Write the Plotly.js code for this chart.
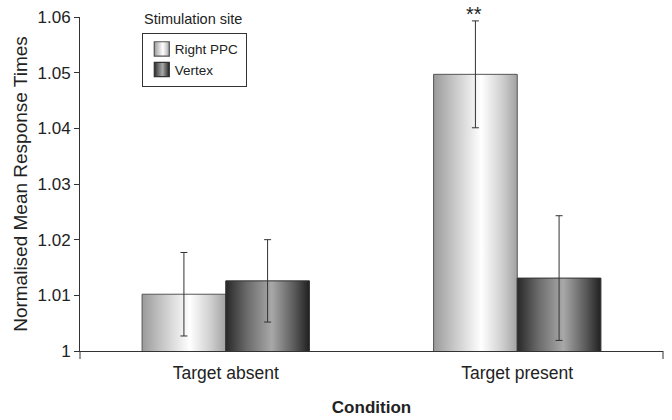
<!DOCTYPE html>
<html>
<head>
<meta charset="utf-8">
<script src="https://cdn.plot.ly/plotly-3.0.1.min.js"></script>
<style>html,body{margin:0;padding:0;background:#fff;}#chart{width:672px;height:420px;}</style>
</head>
<body>
<div id="chart"></div>
<script>
// ---- data ----
var categories = ["Target absent", "Target present"];
var seriesNames = ["Right PPC", "Vertex"];
var rightPPC = [1.0102, 1.0497];
var rightPPCErr = [0.0075, 0.0096];
var vertex = [1.0126, 1.0131];
var vertexErr = [0.0074, 0.0112];
var yTickVals = [1, 1.01, 1.02, 1.03, 1.04, 1.05, 1.06];
var yTickText = ["1", "1.01", "1.02", "1.03", "1.04", "1.05", "1.06"];
var sigLabel = "**";

var FONT = "Liberation Sans, Arial, Helvetica, sans-serif";

function errStyle(arr) {
  return {type: "data", array: arr, visible: true, color: "#333", thickness: 1, width: 3.5};
}

var traces = [
  {type: "bar", name: seriesNames[0], x: categories, y: rightPPC,
   error_y: errStyle(rightPPCErr),
   marker: {color: "#d8d8d8", line: {color: "#555", width: 1}}},
  {type: "bar", name: seriesNames[1], x: categories, y: vertex,
   error_y: errStyle(vertexErr),
   marker: {color: "#666666", line: {color: "#333", width: 1}}}
];

var layout = {
  width: 672, height: 420,
  margin: {l: 80, r: 9, t: 17, b: 69},
  paper_bgcolor: "#fff", plot_bgcolor: "#fff",
  font: {family: FONT, color: "#222", size: 15},
  barmode: "group", bargap: 0.426, bargroupgap: 0,
  showlegend: true,
  legend: {x: 0.106, y: 0.953, xanchor: "left", yanchor: "top",
           bordercolor: "#333", borderwidth: 1, bgcolor: "#fff",
           font: {size: 13.5, family: FONT, color: "#222"}},
  xaxis: {type: "category", range: [-0.5, 1.5], showline: true, linecolor: "#333", linewidth: 1,
          ticks: "", showgrid: false, zeroline: false, ticklabelstandoff: 6,
          tickfont: {size: 17.5, family: FONT, color: "#222"},
          title: {text: "<b>Condition</b>", font: {size: 17, family: FONT, color: "#222"}, standoff: 19}},
  yaxis: {range: [1, 1.06], tickvals: yTickVals, ticktext: yTickText,
          showline: true, linecolor: "#333", linewidth: 1, ticks: "outside", ticklen: 5, tickcolor: "#333",
          showgrid: false, zeroline: false,
          tickfont: {size: 17, family: FONT, color: "#222"},
          title: {text: "Normalised Mean Response Times", font: {size: 19, family: FONT, color: "#222"}, standoff: 4}},
  annotations: [
    {x: categories[1], y: rightPPC[1] + rightPPCErr[1], xref: "x", yref: "y",
     text: sigLabel, showarrow: false, xshift: -43, yanchor: "bottom", yshift: -6,
     font: {size: 20, family: FONT, color: "#222"}},
    {x: 0.106, y: 0.965, xref: "paper", yref: "paper", xanchor: "left", yanchor: "bottom",
     text: "Stimulation site", showarrow: false, font: {size: 14.5, family: FONT, color: "#222"}}
  ],
  shapes: [
    {type: "line", xref: "paper", yref: "paper", x0: 0, x1: 0, y0: 0, y1: -0.024, line: {color: "#333", width: 1}},
    {type: "line", xref: "paper", yref: "paper", x0: 1, x1: 1, y0: 0, y1: -0.024, line: {color: "#333", width: 1}}
  ]
};

var gradDefs = {
  gPPC: [["0%", "#9a9a9a"], ["25%", "#c8c8c8"], ["57%", "#ffffff"], ["82%", "#cfcfcf"], ["100%", "#a2a2a2"]],
  gVTX: [["0%", "#282828"], ["25%", "#6a6a6a"], ["55%", "#a8a8a8"], ["82%", "#5a5a5a"], ["100%", "#202020"]]
};

function applyGradients(gd) {
  var svg = gd.querySelector("svg.main-svg");
  if (!svg) return;
  var ns = "http://www.w3.org/2000/svg";
  var defs = svg.querySelector("defs");
  if (!defs) { defs = document.createElementNS(ns, "defs"); svg.insertBefore(defs, svg.firstChild); }
  Object.keys(gradDefs).forEach(function (id) {
    if (defs.querySelector("#" + id)) return;
    var lg = document.createElementNS(ns, "linearGradient");
    lg.setAttribute("id", id);
    lg.setAttribute("x1", "0"); lg.setAttribute("x2", "1"); lg.setAttribute("y1", "0"); lg.setAttribute("y2", "0");
    gradDefs[id].forEach(function (s) {
      var st = document.createElementNS(ns, "stop");
      st.setAttribute("offset", s[0]); st.setAttribute("stop-color", s[1]);
      lg.appendChild(st);
    });
    defs.appendChild(lg);
  });
  var ids = ["gPPC", "gVTX"];
  var barTraces = gd.querySelectorAll(".barlayer .trace");
  barTraces.forEach(function (t, i) {
    t.querySelectorAll(".point path").forEach(function (p) { p.style.fill = "url(#" + ids[i] + ")"; });
  });
  var legTraces = gd.querySelectorAll(".legend .traces");
  legTraces.forEach(function (t, i) {
    t.querySelectorAll(".legendpoints path").forEach(function (p) {
      p.style.fill = "url(#" + ids[i] + ")";
      if (!p.hasAttribute("data-orig-tf")) {
        p.setAttribute("data-orig-tf", p.getAttribute("transform") || "");
      }
      p.setAttribute("transform", p.getAttribute("data-orig-tf") + " translate(-1,0) scale(1.25,1.2)");
    });
    t.querySelectorAll("text.legendtext").forEach(function (tx) {
      if (!tx.hasAttribute("data-orig-x")) tx.setAttribute("data-orig-x", tx.getAttribute("x") || "0");
      tx.setAttribute("x", parseFloat(tx.getAttribute("data-orig-x")) - 8);
    });
  });
  var bg = gd.querySelector(".legend rect.bg");
  if (bg) {
    if (!bg.hasAttribute("data-orig-w")) bg.setAttribute("data-orig-w", bg.getAttribute("width"));
    bg.setAttribute("width", parseFloat(bg.getAttribute("data-orig-w")) - 6);
  }
}

var gd = document.getElementById("chart");
Plotly.newPlot(gd, traces, layout, {staticPlot: true, displayModeBar: false}).then(function () {
  applyGradients(gd);
  gd.on("plotly_afterplot", function () { applyGradients(gd); });
});
</script>
</body>
</html>
